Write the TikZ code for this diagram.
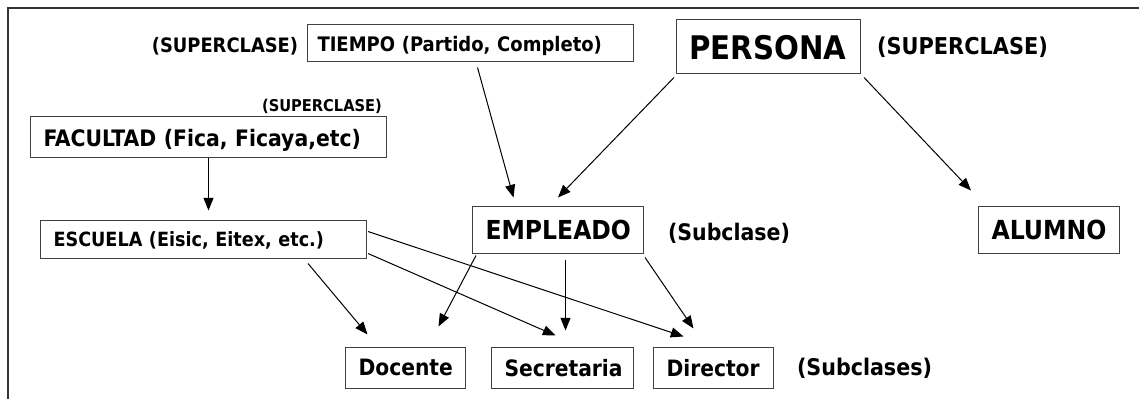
\documentclass[tikz,border=0pt]{standalone}
\usepackage{fontspec}
\setmainfont{DejaVu Sans Condensed}
\usetikzlibrary{arrows.meta,calc}
\newcommand{\tikzScale}{0.75pt}
\newcommand{\tam}[1]{\fontsize{#1}{#1}\selectfont\bfseries}

\begin{document}
\begin{tikzpicture}[x=\tikzScale, y=-\tikzScale,
    caja/.style={draw=black!75, line width=0.75pt, inner xsep=9.75pt, inner ysep=0pt, text depth=-3.5pt, align=left, anchor=west},
    rotulo/.style={inner sep=0pt},
    flecha/.style={-{Triangle[length=9.5pt,width=7.5pt]}, line width=0.75pt}]
\useasboundingbox (0,0) rectangle (1139,399);
\draw[line width=1.6pt, black!80] (8,399) |- (1139,8);

\node[caja, text width=229.5pt, minimum height=27.75pt, inner xsep=7.5pt, font=\tam{15}] (tiempo) at (307,43.5) {TIEMPO (Partido, Completo)};
\node[caja, text width=118.5pt, minimum height=40.5pt, font=\tam{24.4}] (persona) at (676,47) {PERSONA};
\node[caja, text width=247.5pt, minimum height=30.75pt, font=\tam{17}] (facultad) at (30,137.5) {FACULTAD (Fica, Ficaya,etc)};
\node[caja, text width=225pt, minimum height=27.75pt, font=\tam{14.7}] (escuela) at (40,239.5) {ESCUELA (Eisic, Eitex, etc.)};
\node[caja, text width=108.75pt, minimum height=34.5pt, font=\tam{19.6}] (empleado) at (472,230) {EMPLEADO};
\node[caja, text width=86.25pt, minimum height=34.5pt, font=\tam{19.7}] (alumno) at (978,230) {ALUMNO};
\node[caja, text width=70.5pt, minimum height=30.75pt, font=\tam{16.9}] (docente) at (345,367.5) {Docente};
\node[caja, text width=87pt, minimum height=30.75pt, font=\tam{16.9}] (secretaria) at (491,367.5) {Secretaria};
\node[caja, text width=70.5pt, minimum height=30.75pt, font=\tam{16.9}] (director) at (653,367.5) {Director};

\node[rotulo, font=\tam{14.9}] (supTiempo) at (225,46) {(SUPERCLASE)};
\node[rotulo, font=\tam{12.2}] (supFacultad) at (322,106) {(SUPERCLASE)};
\node[rotulo, font=\tam{17.4}] (supPersona) at (962.5,47) {(SUPERCLASE)};
\node[rotulo, font=\tam{17.1}] (subEmpleado) at (729,233) {(Subclase)};
\node[rotulo, font=\tam{17.2}] (subHijos) at (864.5,368) {(Subclases)};

\draw[flecha, shorten >=7.5pt] (facultad.south) -- (facultad.south |- escuela.north);
\draw[flecha] ($(tiempo.south)+(7,5)$) -- ($(empleado.north)+(-44.5,-9)$);
\draw[flecha] ($(persona.south west)+(-2,3)$) -- ($(empleado.north)+(0,-9)$);
\draw[flecha] ($(persona.south east)+(3,3)$) -- ($(alumno.north west)+(-7,-16)$);
\draw[flecha] ($(escuela.south east)+(-59,5)$) -- ($(docente.north)+(-38,-12)$);
\draw[flecha] ($(empleado.south west)+(4,2)$) -- ($(docente.north)+(33,-20)$);
\draw[flecha] ($(escuela.south east)+(1,-5)$) -- ($(secretaria.north)+(-7,-11)$);
\draw[flecha] ($(empleado.south)+(7.5,6)$) -- ($(secretaria.north)+(3,-16)$);
\draw[flecha] ($(escuela.north east)+(1,11)$) -- ($(director.north)+(-30,-10)$);
\draw[flecha] ($(empleado.south east)+(1,4)$) -- ($(director.north)+(-20,-18)$);
\end{tikzpicture}
\end{document}
